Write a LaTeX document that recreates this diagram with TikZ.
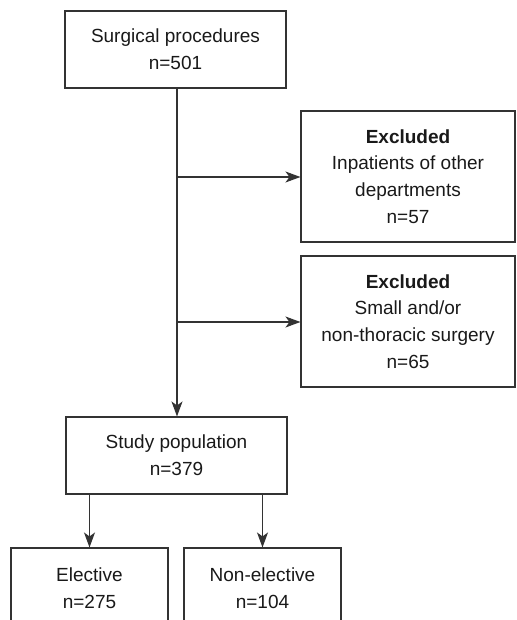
\documentclass[tikz,border=0pt]{standalone}
\usepackage{fontspec}
\setmainfont{Liberation Sans}
\usetikzlibrary{arrows.meta}

\tikzset{
	box/.style={draw=black!80, line width=1.1pt, align=center, inner sep=0pt, text=black!90, font=\fontsize{19}{26.7}\selectfont},
	arr/.style={draw=black!80, line width=1.1pt, -{Stealth[length=15pt, width=11pt, inset=4pt]}}
}

\begin{document}
\begin{tikzpicture}[x=1pt, y=-1pt]
		%%%%% START %%%%%
		
		\useasboundingbox (0, 0) rectangle (516, 620);
		
		\node[box, minimum width=221pt, minimum height=77pt] (proc) at (175.5, 49.5) {Surgical procedures\\n=501};
		
		\node[box, minimum width=214pt, minimum height=131pt] (excl1) at (408, 176.5) {\textbf{Excluded}\\Inpatients of other\\departments\\n=57};
		\node[box, minimum width=214pt, minimum height=131pt] (excl2) at (408, 321.5) {\textbf{Excluded}\\Small and/or\\non-thoracic surgery\\n=65};
		
		\node[box, minimum width=221pt, minimum height=77pt] (study) at (176.5, 455.5) {Study population\\n=379};
		
		\node[box, minimum width=157pt, minimum height=80pt] (elect) at (89.5, 588) {Elective\\n=275};
		\node[box, minimum width=157pt, minimum height=80pt] (nonel) at (262.5, 588) {Non-elective\\n=104};
		
		\coordinate (b1) at (177, 177);
		\coordinate (b2) at (177, 322);
		
		\draw[arr] (proc.south -| b1) -- (study.north -| b1);
		\draw[arr] (b1) -- (b1 -| excl1.west);
		\draw[arr] (b2) -- (b2 -| excl2.west);
		
		\draw[arr] (study.south -| elect.north) -- (elect.north);
		\draw[arr] (study.south -| nonel.north) -- (nonel.north);
		
		%%%%% END %%%%%
	\end{tikzpicture}
\end{document}
